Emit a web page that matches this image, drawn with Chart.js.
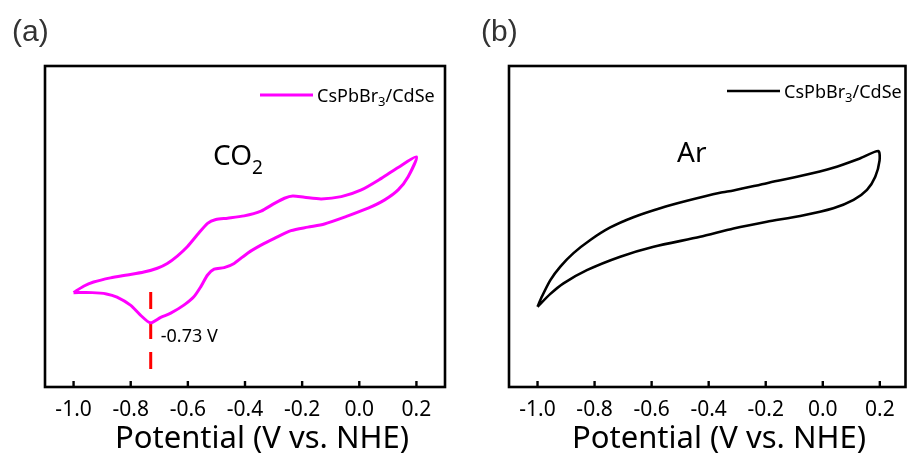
<!DOCTYPE html>
<html>
<head>
<meta charset="utf-8">
<script src="https://cdn.jsdelivr.net/npm/chart.js@4.4.0/dist/chart.umd.min.js"></script>
<style>
  html, body { margin: 0; padding: 0; background: #fff; }
  #wrap { position: relative; width: 908px; height: 459px; overflow: hidden; }
  canvas { position: absolute; top: 0; }
</style>
</head>
<body>
<div id="wrap">
  <canvas id="panelA" width="454" height="459" style="left:0"></canvas>
  <canvas id="panelB" width="454" height="459" style="left:454px"></canvas>
</div>
<script>
// x axis ticks (V vs. NHE)
const potentialTicks = [-1.0, -0.8, -0.6, -0.4, -0.2, 0.0, 0.2];

// (a) CO2: scan -1.0 -> 0.2 on the upper branch, back on the lower branch (arb. units)
const co2Potential = [
  -1.0, -0.965, -0.930, -0.871, -0.812, -0.754, -0.707, -0.672, -0.637, -0.602, -0.567,
  -0.531, -0.502, -0.461, -0.403, -0.344, -0.297, -0.262, -0.233, -0.192, -0.133,
  -0.063, 0.007, 0.077, 0.136, 0.200,
  0.171, 0.136, 0.089, 0.031, -0.040, -0.122, -0.180, -0.239, -0.297, -0.344,
  -0.391, -0.438, -0.473, -0.508, -0.531, -0.555, -0.579, -0.614, -0.660, -0.695,
  -0.731, -0.766, -0.801, -0.848, -0.885, -0.935, -1.0
];
const co2Current = [
  2.94, 3.14, 3.27, 3.40, 3.49, 3.58, 3.70, 3.85, 4.08, 4.37, 4.74,
  5.10, 5.22, 5.26, 5.33, 5.48, 5.72, 5.88, 5.95, 5.91, 5.86,
  5.93, 6.14, 6.50, 6.84, 7.17,
  6.55, 6.14, 5.83, 5.57, 5.33, 5.08, 4.98, 4.87, 4.63, 4.42,
  4.17, 3.85, 3.72, 3.67, 3.49, 3.12, 2.81, 2.55, 2.30, 2.17,
  2.00, 2.24, 2.55, 2.80, 2.90, 2.94, 2.94
];

// reduction peak marker
const peakPotential = -0.73;
const peakMarkerY = [2.96, 0.47];

// (b) Ar
const arPotential = [
  -1.0, -0.985, -0.955, -0.920, -0.874, -0.815, -0.745, -0.664, -0.570, -0.476,
  -0.360, -0.313, -0.196, -0.079, 0.037, 0.130, 0.195,
  0.199, 0.184, 0.155, 0.108, 0.037, -0.079, -0.196, -0.313, -0.430,
  -0.593, -0.710, -0.827, -0.909, -0.955, -1.0
];
const arCurrent = [
  2.50, 2.81, 3.33, 3.75, 4.17, 4.58, 4.97, 5.29, 5.57, 5.80,
  6.05, 6.12, 6.35, 6.57, 6.83, 7.12, 7.35,
  7.05, 6.55, 6.14, 5.83, 5.57, 5.33, 5.15, 4.94, 4.68,
  4.37, 4.06, 3.64, 3.23, 2.90, 2.50
];

const toPoints = (xs, ys) => xs.map((x, i) => ({ x: x, y: ys[i] }));

Chart.defaults.font.family = "'Noto Sans', sans-serif";
Chart.defaults.color = '#000';

// draws text with a subscript part, e.g. CsPbBr3
function richText(ctx, parts, x, y, color) {
  ctx.fillStyle = color;
  ctx.textBaseline = 'alphabetic';
  ctx.textAlign = 'left';
  parts.forEach(p => {
    ctx.font = p.size + "px 'Noto Sans'";
    ctx.fillText(p.t, x, y + (p.dy || 0));
    x += ctx.measureText(p.t).width;
  });
}

const panelPlugin = {
  id: 'panel',
  afterDatasetsDraw(chart, args, o) {
    const { ctx, chartArea: a, scales: { x } } = chart;
    ctx.save();
    // frame
    ctx.strokeStyle = '#000';
    ctx.lineWidth = 2.6;
    ctx.strokeRect(a.left, a.top, a.right - a.left, a.bottom - a.top);
    // inward ticks
    ctx.lineWidth = 2.4;
    x.ticks.forEach(t => {
      const px = x.getPixelForValue(t.value);
      ctx.beginPath();
      ctx.moveTo(px, a.bottom);
      ctx.lineTo(px, a.bottom - 6);
      ctx.stroke();
    });
    // panel tag
    ctx.fillStyle = '#333';
    ctx.font = "30px 'Liberation Sans'";
    ctx.textBaseline = 'alphabetic';
    ctx.fillText(o.tag, o.tagX, 41);
    // legend
    const ds = chart.data.datasets[0];
    ctx.strokeStyle = ds.borderColor;
    ctx.lineWidth = ds.borderWidth;
    ctx.beginPath();
    ctx.moveTo(o.legX, o.legY);
    ctx.lineTo(o.legX + 53, o.legY);
    ctx.stroke();
    richText(ctx, [{ t: 'CsPbBr', size: 18 }, { t: '3', size: 13, dy: 4 }, { t: '/CdSe', size: 18 }],
      o.legX + 57, o.legY + 7, '#000');
    // gas label
    richText(ctx, o.gas, o.gasX, o.gasY, '#000');
    // peak label
    if (o.peakLabel) {
      ctx.font = "18px 'Noto Sans'";
      ctx.fillStyle = '#000';
      ctx.fillText(o.peakLabel, x.getPixelForValue(peakPotential) + 10, 342);
    }
    // axis title
    ctx.font = "31px 'Noto Sans'";
    ctx.textAlign = 'center';
    ctx.textBaseline = 'middle';
    ctx.fillStyle = '#000';
    ctx.fillText('Potential (V vs. NHE)', o.titleX, 439);
    ctx.restore();
  }
};

function makePanel(id, datasets, xMax, padding, deco) {
  return new Chart(document.getElementById(id), {
    type: 'scatter',
    data: { datasets: datasets },
    options: {
      responsive: false,
      animation: false,
      layout: { padding: padding },
      plugins: { legend: { display: false }, tooltip: { enabled: false }, panel: deco },
      scales: {
        x: {
          type: 'linear',
          min: -1.1,
          max: xMax,
          afterBuildTicks: s => { s.ticks = potentialTicks.map(v => ({ value: v })); },
          afterFit: s => { s.height = 72; },
          grid: { display: false, drawTicks: false },
          border: { display: false },
          ticks: { padding: 10, color: '#000', font: { size: 21 }, callback: v => v.toFixed(1) }
        },
        y: { display: false, min: 0, max: 10 }
      }
    },
    plugins: [panelPlugin]
  });
}

makePanel('panelA', [
  {
    label: 'CsPbBr3/CdSe',
    data: toPoints(co2Potential, co2Current),
    showLine: true,
    borderColor: '#ff00ff',
    borderWidth: 3,
    pointRadius: 0,
    tension: 0.25
  },
  {
    label: 'peak',
    data: toPoints([peakPotential, peakPotential], peakMarkerY),
    showLine: true,
    borderColor: '#ff0000',
    borderWidth: 3,
    borderDash: [17, 13],
    pointRadius: 0
  }
], 0.3, { left: 45, top: 66, right: 9, bottom: 0 }, {
  tag: '(a)', tagX: 12,
  legX: 260, legY: 95,
  gas: [{ t: 'CO', size: 28 }, { t: '2', size: 19, dy: 9 }], gasX: 213, gasY: 165,
  peakLabel: '-0.73 V',
  titleX: 262
});

makePanel('panelB', [
  {
    label: 'CsPbBr3/CdSe',
    data: toPoints(arPotential, arCurrent),
    showLine: true,
    borderColor: '#000000',
    borderWidth: 2.6,
    pointRadius: 0,
    tension: 0.25
  }
], 0.29, { left: 55, top: 66, right: 2.5, bottom: 0 }, {
  tag: '(b)', tagX: 27,
  legX: 273, legY: 91,
  gas: [{ t: 'Ar', size: 28 }], gasX: 223, gasY: 162,
  peakLabel: null,
  titleX: 265
});
</script>
</body>
</html>
